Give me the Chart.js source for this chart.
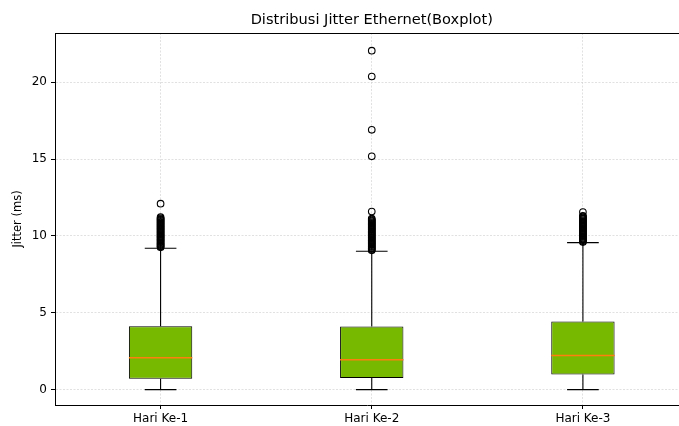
<!DOCTYPE html>
<html>
<head>
<meta charset="utf-8">
<script src="https://cdn.jsdelivr.net/npm/chart.js@4/dist/chart.umd.min.js"></script>
<style>
  html, body { margin: 0; padding: 0; background: #fff; }
  #wrap { width: 679px; height: 426px; position: relative; }
</style>
</head>
<body>
<div id="wrap"><canvas id="chart"></canvas></div>
<script>
// Jitter Ethernet boxplot

var categories = ['Hari Ke-1', 'Hari Ke-2', 'Hari Ke-3'];
var positions = [1, 2, 3];

var whiskerLow = [0, 0, 0];
var q1 = [0.70, 0.76, 0.99];
var median = [2.07, 1.95, 2.22];
var q3 = [4.12, 4.10, 4.43];
var whiskerHigh = [9.20, 9.00, 9.56];

var outliers1 = [9.26, 9.31, 9.35, 9.42, 9.47, 9.53, 9.58, 9.66, 9.71, 9.77, 9.82, 9.89,
    9.94, 10.0, 10.06, 10.11, 10.18, 10.23, 10.29, 10.35, 10.41, 10.46, 10.52, 10.58,
    10.63, 10.7, 10.75, 10.81, 10.87, 10.92, 10.98, 11.04, 11.09, 11.15, 11.22, 12.1];
var outliers2 = [9.06, 9.1, 9.17, 9.22, 9.28, 9.33, 9.4, 9.45, 9.51, 9.57, 9.62, 9.69,
    9.74, 9.8, 9.86, 9.91, 9.97, 10.03, 10.09, 10.14, 10.2, 10.26, 10.31, 10.38, 10.43,
    10.49, 10.55, 10.6, 10.66, 10.72, 10.78, 10.83, 10.89, 10.95, 11.0, 11.06, 11.12,
    11.58, 15.18, 16.9, 20.37, 22.05];
var outliers3 = [9.6, 9.65, 9.71, 9.76, 9.83, 9.88, 9.94, 9.99, 10.05, 10.11, 10.17,
    10.22, 10.28, 10.34, 10.39, 10.46, 10.51, 10.57, 10.62, 10.68, 10.74, 10.8, 10.85,
    10.91, 10.97, 11.02, 11.08, 11.14, 11.2, 11.26, 11.31, 11.55];

var yTicks = [0, 5, 10, 15, 20];
var chartTitle = 'Distribusi Jitter Ethernet(Boxplot)';
var yTitle = 'Jitter (ms)';

var BOX_WIDTH = 0.3;   // in x units, like matplotlib default for 3 boxes
var CAP_WIDTH = 0.15;
var FONT = '"DejaVu Sans", sans-serif';

// build line segments (with gaps) for whiskers, caps and medians
var whiskerPts = [];
var capPts = [];
var medianPts = [];
var outlierPts = [];
var gap = function (p) { return { x: p, y: null }; };

positions.forEach(function (p, i) {
    whiskerPts.push({ x: p, y: whiskerLow[i] }, { x: p, y: q1[i] }, gap(p));
    whiskerPts.push({ x: p, y: q3[i] }, { x: p, y: whiskerHigh[i] }, gap(p));
    capPts.push({ x: p - CAP_WIDTH / 2, y: whiskerLow[i] }, { x: p + CAP_WIDTH / 2, y: whiskerLow[i] }, gap(p));
    capPts.push({ x: p - CAP_WIDTH / 2, y: whiskerHigh[i] }, { x: p + CAP_WIDTH / 2, y: whiskerHigh[i] }, gap(p));
    medianPts.push({ x: p - BOX_WIDTH / 2, y: median[i] }, { x: p + BOX_WIDTH / 2, y: median[i] }, gap(p));
});
[outliers1, outliers2, outliers3].forEach(function (list, i) {
    list.forEach(function (v) { outlierPts.push({ x: positions[i], y: v }); });
});

// top spine + title, drawn through the chart scales
var framePlugin = {
    id: 'frame',
    beforeDatasetsDraw: function (chart) {
        var ctx = chart.ctx, a = chart.chartArea;
        ctx.save();
        ctx.strokeStyle = '#000';
        ctx.lineWidth = 1;
        ctx.beginPath();
        ctx.moveTo(a.left, a.top + 0.5);
        ctx.lineTo(a.right, a.top + 0.5);
        ctx.stroke();
        ctx.restore();
    },
    afterDraw: function (chart) {
        var ctx = chart.ctx;
        var xs = chart.scales.x;
        var cx = (xs.getPixelForValue(0.5) + xs.getPixelForValue(3.5)) / 2;
        ctx.save();
        ctx.fillStyle = '#000';
        ctx.font = '14.6px ' + FONT;
        ctx.textAlign = 'center';
        ctx.textBaseline = 'middle';
        ctx.fillText(chartTitle, cx, 20);
        ctx.restore();
    }
};

var lineStyle = {
    type: 'scatter',
    showLine: true,
    spanGaps: false,
    pointRadius: 0,
    borderWidth: 1.1,
    fill: false
};

var gridStyle = {
    offset: false,
    color: '#cccccc',
    lineWidth: 0.6,
    tickColor: '#000',
    tickLength: 4,
    tickWidth: 1
};

new Chart(document.getElementById('chart').getContext('2d'), {
    type: 'bar',
    data: {
        datasets: [
            {
                type: 'bar',
                data: positions.map(function (p, i) { return { x: p, y: [q1[i], q3[i]] }; }),
                backgroundColor: '#76b900',
                borderColor: '#000',
                borderWidth: 1,
                borderSkipped: false,
                barPercentage: BOX_WIDTH,
                categoryPercentage: 1,
                order: 3
            },
            Object.assign({}, lineStyle, { data: whiskerPts, borderColor: '#000', order: 2 }),
            Object.assign({}, lineStyle, { data: capPts, borderColor: '#000', order: 2 }),
            Object.assign({}, lineStyle, { data: medianPts, borderColor: '#ff7f0e', borderWidth: 1.5, order: 1 }),
            {
                type: 'scatter',
                data: outlierPts,
                pointStyle: 'circle',
                pointRadius: 3.3,
                pointBorderWidth: 1.1,
                pointBorderColor: '#000',
                pointBackgroundColor: 'rgba(0,0,0,0)',
                order: 0
            }
        ]
    },
    options: {
        responsive: true,
        maintainAspectRatio: false,
        animation: false,
        events: [],
        layout: { autoPadding: false, padding: { top: 33, left: 0, right: 0, bottom: 0 } },
        plugins: {
            legend: { display: false },
            title: { display: false },
            tooltip: { enabled: false }
        },
        scales: {
            x: {
                type: 'linear',
                min: 0.5,
                max: 3.455,
                offset: false,
                afterBuildTicks: function (axis) {
                    axis.ticks = positions.map(function (p) { return { value: p }; });
                },
                afterFit: function (axis) { axis.height = 21; },
                ticks: {
                    color: '#000',
                    font: { family: FONT, size: 12 },
                    padding: 3,
                    maxRotation: 0,
                    callback: function (value) { return categories[positions.indexOf(value)]; }
                },
                grid: gridStyle,
                border: { display: true, color: '#000', width: 1, dash: [2, 1.5] }
            },
            y: {
                type: 'linear',
                min: -1.0,
                max: 23.2,
                afterBuildTicks: function (axis) {
                    axis.ticks = yTicks.map(function (v) { return { value: v }; });
                },
                afterFit: function (axis) { axis.width = 55; },
                ticks: {
                    color: '#000',
                    font: { family: FONT, size: 12 },
                    padding: 4
                },
                grid: gridStyle,
                border: { display: true, color: '#000', width: 1, dash: [2, 1.5] },
                title: {
                    display: true,
                    text: yTitle,
                    color: '#000',
                    font: { family: FONT, size: 11.5 },
                    padding: { top: 11, bottom: 0 }
                }
            }
        }
    },
    plugins: [framePlugin]
});
</script>
</body>
</html>
